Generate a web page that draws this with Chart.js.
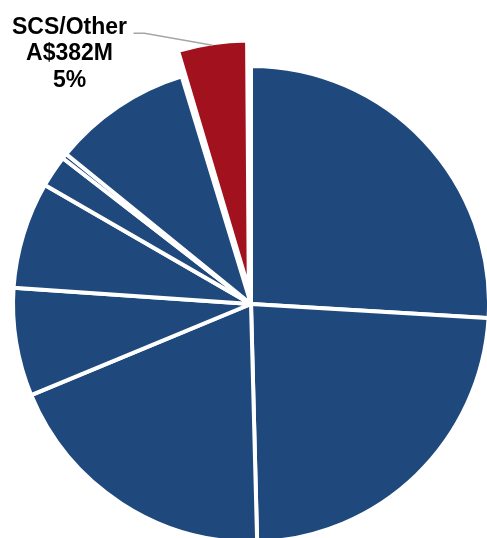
<!DOCTYPE html>
<html>
<head>
<meta charset="utf-8">
<script src="https://cdn.jsdelivr.net/npm/chart.js@4"></script>
<style>
  html, body { margin: 0; padding: 0; background: #fff; }
  #wrap { width: 487px; height: 538px; }
</style>
</head>
<body>
<div id="wrap"><canvas id="pie" width="487" height="538"></canvas></div>
<script>
// segment revenue, A$M (clockwise from 12 o'clock)
const segments = ['Segment A', 'Segment B', 'Segment C', 'Segment D', 'Segment E',
                  'Segment F', 'Segment G', 'Segment H', 'SCS/Other'];
const revenue = [2109, 1921, 1557, 597, 588, 176, 29, 768, 382];
const sliceColors = ['#1F497D', '#1F497D', '#1F497D', '#1F497D', '#1F497D',
                     '#1F497D', '#1F497D', '#1F497D', '#A1121E'];
const sliceOffsets = [0, 0, 0, 0, 0, 0, 0, 0, 60];
const calloutLines = ['SCS/Other', 'A$382M', '5%'];
const calloutIndex = 8;

// label with leader line, anchored on the exploded slice
const callout = {
  id: 'callout',
  afterDatasetsDraw(chart) {
    const arc = chart.getDatasetMeta(0).data[calloutIndex];
    const p = arc.getProps(['x', 'y', 'startAngle', 'endAngle', 'outerRadius'], true);
    const mid = (p.startAngle + p.endAngle) / 2;
    const t = (arc.options.offset || 0) / 4;
    const fix = 1 - Math.sin(Math.min(Math.PI, p.endAngle - p.startAngle));
    const R = p.outerRadius + t + t * fix - 2;
    const ax = p.x + Math.cos(mid) * R;
    const ay = p.y + Math.sin(mid) * R;
    const ex = ax - 68, ey = ay - 12;

    const ctx = chart.ctx;
    ctx.save();
    ctx.strokeStyle = '#A6A6A6';
    ctx.lineWidth = 1.5;
    ctx.beginPath();
    ctx.moveTo(ax, ay);
    ctx.lineTo(ex, ey);
    ctx.lineTo(ex - 11, ey);
    ctx.stroke();

    ctx.fillStyle = '#000';
    ctx.font = 'bold 23px "Liberation Sans", Arial, sans-serif';
    ctx.textAlign = 'center';
    ctx.textBaseline = 'alphabetic';
    const tx = ex - 75;
    calloutLines.forEach((s, i) => ctx.fillText(s, tx, ey + 0.5 + i * 26.5));
    ctx.restore();
  }
};

const ctx = document.getElementById('pie').getContext('2d');
const chart = new Chart(ctx, {
  type: 'pie',
  data: {
    labels: segments,
    datasets: [{
      data: revenue,
      backgroundColor: sliceColors,
      borderColor: '#FFFFFF',
      borderWidth: 4,
      offset: sliceOffsets
    }]
  },
  options: {
    responsive: false,
    animation: false,
    radius: 238,
    layout: { padding: { left: 15, right: 0, top: 70, bottom: 0 } },
    plugins: {
      legend: { display: false },
      tooltip: { enabled: false }
    }
  },
  plugins: [callout]
});
</script>
</body>
</html>
